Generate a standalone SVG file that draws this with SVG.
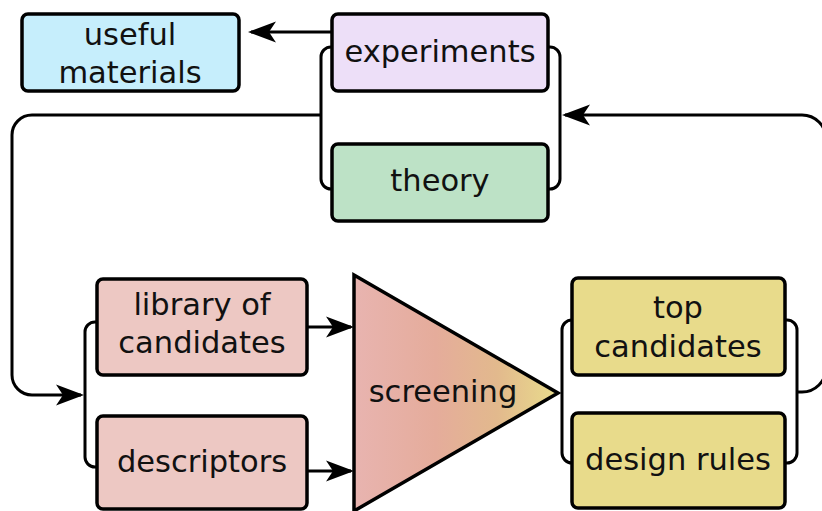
<svg xmlns="http://www.w3.org/2000/svg" width="822" height="511" viewBox="0 0 822 511">
  <style>
    .box { stroke: #000; stroke-width: 3.5; }
    .label { font-family: "DejaVu Sans", "Liberation Sans", sans-serif; font-size: 30.5px; fill: #111; text-anchor: middle; }
    .wire { fill: none; stroke: #000; stroke-width: 3; }
  </style>
  <defs>
    <marker id="head" markerUnits="userSpaceOnUse" markerWidth="34" markerHeight="26" refX="27" refY="12" orient="auto">
      <path d="M30,12 L2,1.5 L9,12 L2,22.5 Z" fill="#000"/>
    </marker>
    <linearGradient id="screenFill" gradientUnits="userSpaceOnUse" x1="354" y1="0" x2="558" y2="0">
      <stop offset="0" stop-color="#e8b4b0"/>
      <stop offset="0.4" stop-color="#e5ac9b"/>
      <stop offset="0.7" stop-color="#e2b98d"/>
      <stop offset="1" stop-color="#e9dc8c"/>
    </linearGradient>
  </defs>

  <g id="connectors">
    <!-- brackets joining paired boxes -->
    <path class="wire" d="M332,47 H331 A10 10 0 0 0 321,57 V179 A10 10 0 0 0 331,189 H332"/>
    <path class="wire" d="M548,47 H550 A10 10 0 0 1 560,57 V179 A10 10 0 0 1 550,189 H548"/>
    <path class="wire" d="M97,322 H95 A10 10 0 0 0 85,332 V457 A10 10 0 0 0 95,467 H97"/>
    <path class="wire" d="M572,320 A10 10 0 0 0 562,330 V453 A10 10 0 0 0 572,463"/>
    <path class="wire" d="M785,320 H787 A10 10 0 0 1 797,330 V453 A10 10 0 0 1 787,463 H785"/>
    <!-- arrows -->
    <path class="wire" d="M332,32 H251" marker-end="url(#head)"/>
    <path class="wire" d="M321,115 H32 A20 20 0 0 0 12,135 V375 A20 20 0 0 0 32,395 H81" marker-end="url(#head)"/>
    <path class="wire" d="M797,392 H802 A24 24 0 0 0 826,368 V139 A24 24 0 0 0 802,115 H565" marker-end="url(#head)"/>
    <path class="wire" d="M307,327 H351" marker-end="url(#head)"/>
    <path class="wire" d="M307,471 H351" marker-end="url(#head)"/>
  </g>

  <g id="useful-materials">
    <rect class="box" x="22" y="14" width="217" height="77" rx="6" fill="#c6eefc"/>
    <text class="label" x="130" y="45">useful</text>
    <text class="label" x="130" y="83">materials</text>
  </g>

  <g id="experiments">
    <rect class="box" x="332" y="14" width="216" height="77" rx="6" fill="#eddff8"/>
    <text class="label" x="440" y="62">experiments</text>
  </g>

  <g id="theory">
    <rect class="box" x="332" y="144" width="216" height="77" rx="6" fill="#bde2c6"/>
    <text class="label" x="440" y="191">theory</text>
  </g>

  <g id="library">
    <rect class="box" x="97" y="279" width="210" height="96" rx="6" fill="#edc8c3"/>
    <text class="label" x="202" y="315">library of</text>
    <text class="label" x="202" y="353">candidates</text>
  </g>

  <g id="descriptors">
    <rect class="box" x="97" y="416" width="210" height="93" rx="6" fill="#edc8c3"/>
    <text class="label" x="202" y="472">descriptors</text>
  </g>

  <g id="screening">
    <path class="box" d="M354,275 L558,393 L354,511 Z" fill="url(#screenFill)" stroke-width="4"/>
    <text class="label" x="443" y="402">screening</text>
  </g>

  <g id="top-candidates">
    <rect class="box" x="572" y="278" width="213" height="97" rx="6" fill="#e8db8b"/>
    <text class="label" x="678" y="318">top</text>
    <text class="label" x="678" y="357">candidates</text>
  </g>

  <g id="design-rules">
    <rect class="box" x="572" y="413" width="213" height="95" rx="6" fill="#e8db8b"/>
    <text class="label" x="678" y="470">design rules</text>
  </g>
</svg>
